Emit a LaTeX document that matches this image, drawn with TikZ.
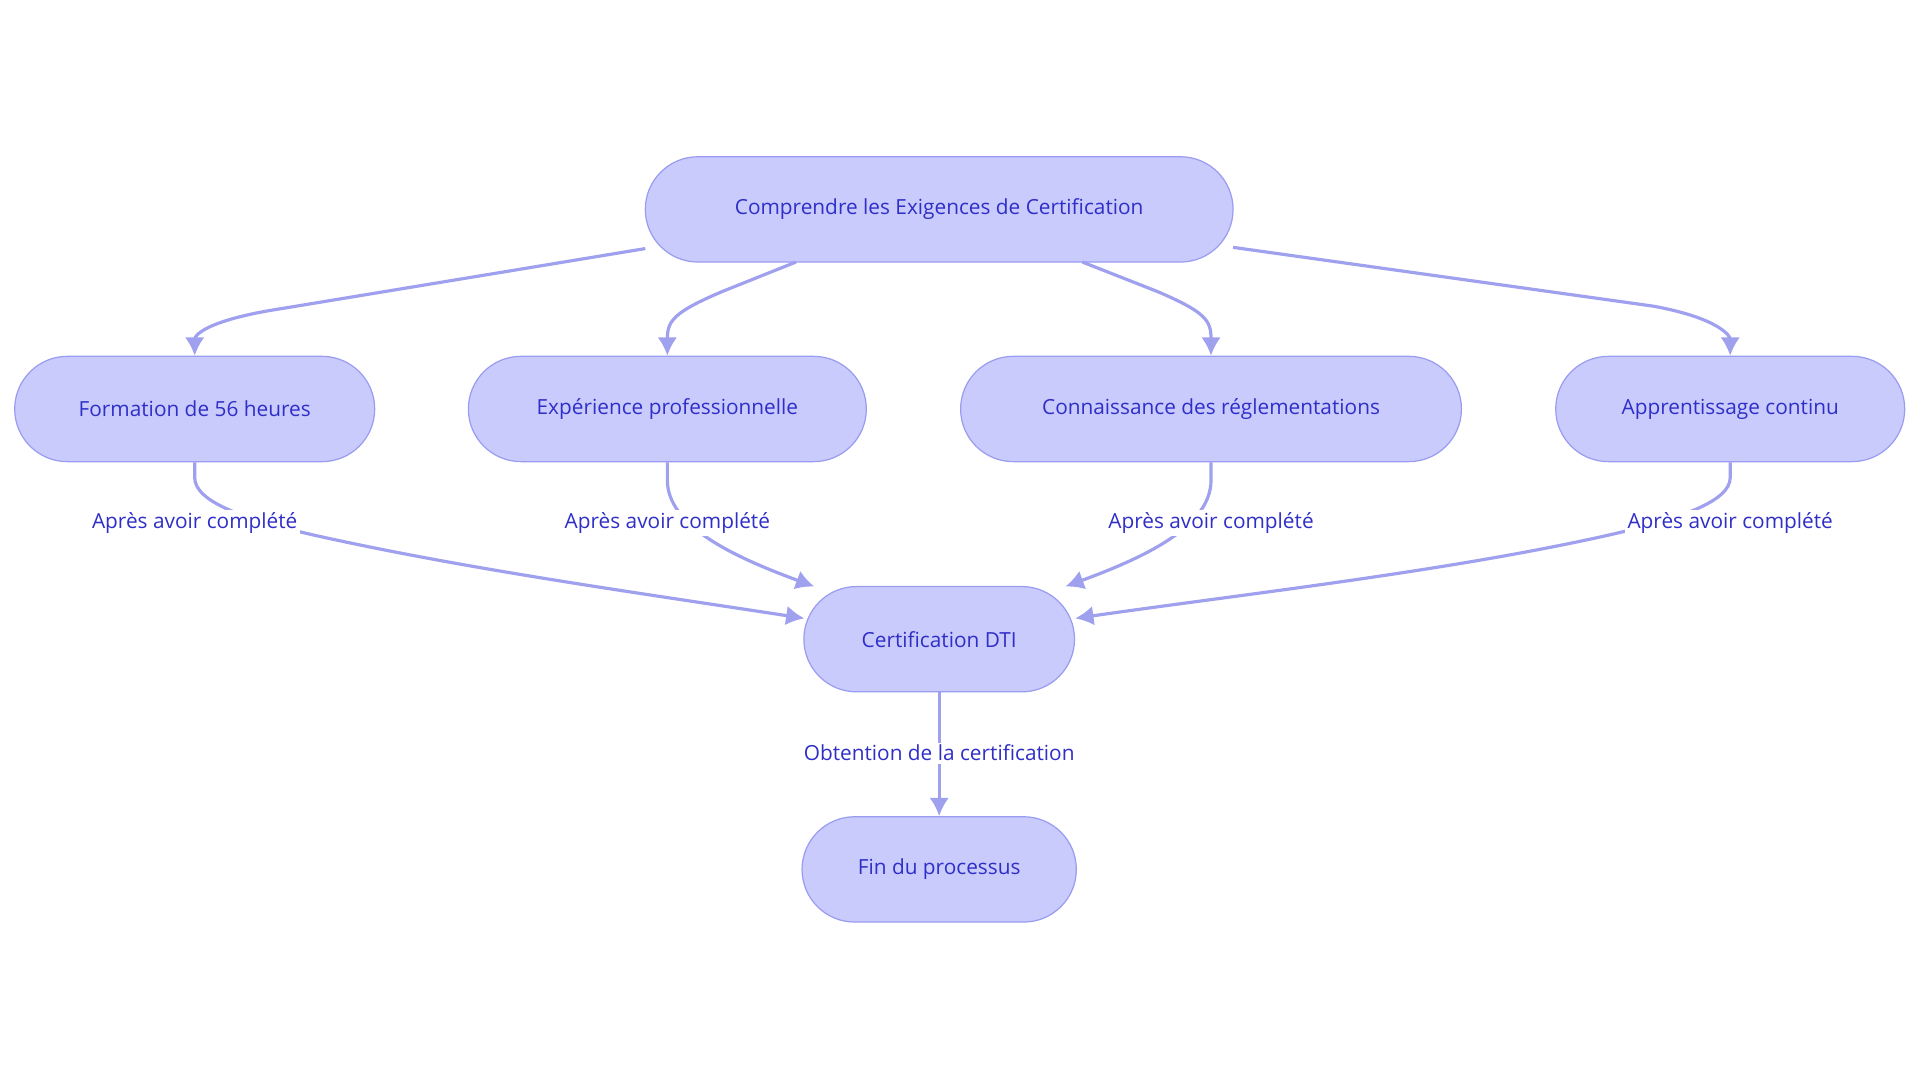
\documentclass[tikz,border=0pt]{standalone}
\usepackage{fontspec}
\setmainfont{Open Sans}
\usetikzlibrary{arrows.meta}
\definecolor{nfill}{HTML}{C9CBFD}
\definecolor{nbord}{HTML}{9A9CF0}
\definecolor{ntext}{HTML}{2F2FC8}
\definecolor{edge}{HTML}{9FA0EE}
\begin{document}
\begin{tikzpicture}[x=1pt,y=-1pt,
  box/.style={draw=nbord,fill=nfill,line width=1pt,rounded corners=43pt,minimum height=86pt,text=ntext,font=\fontsize{17}{20}\selectfont,inner sep=0pt},
  con/.style={draw=edge,line width=2.6pt,-{Latex[length=15pt,width=16pt]}},
  lab/.style={fill=white,text=ntext,font=\fontsize{17}{20}\selectfont,inner sep=2pt}]
\useasboundingbox (0,0) rectangle (1568,884);
\node[box,minimum width=480pt] (top) at (767,171) {Comprendre les Exigences de Certification};
\node[box,minimum width=294pt] (f) at (159,334) {Formation de 56 heures};
\node[box,minimum width=325pt] (e) at (545,334) {Expérience professionnelle};
\node[box,minimum width=409pt] (c) at (989,334) {Connaissance des réglementations};
\node[box,minimum width=285pt] (a) at (1413,334) {Apprentissage continu};
\node[box,minimum width=221pt] (d) at (767,522) {Certification DTI};
\node[box,minimum width=224pt] (fin) at (767,710) {Fin du processus};
\coordinate (t1) at (527,203);
\coordinate (t2) at (650,214);
\coordinate (t3) at (884,214);
\coordinate (t4) at (1007,202);
\draw[con] (t1) -- (230,252) .. controls (165,262) and (159,275) .. (f.north);
\draw[con] (t2) -- (590,238) .. controls (550,255) and (545,262) .. (e.north);
\draw[con] (t3) -- (945,238) .. controls (985,255) and (989,262) .. (c.north);
\draw[con] (t4) -- (1350,250) .. controls (1405,260) and (1413,275) .. (a.north);
\coordinate (d1) at (657,505);
\coordinate (d2) at (665,479);
\coordinate (d3) at (870,479);
\coordinate (d4) at (878,505);
\draw[con] (f.south) -- (159,390) .. controls (159,410) and (200,425) .. (270,440) .. controls (390,466) and (520,484) .. (d1);
\draw[con] (e.south) -- (545,392) .. controls (545,430) and (600,455) .. (d2);
\draw[con] (c.south) -- (989,392) .. controls (989,430) and (935,455) .. (d3);
\draw[con] (a.south) -- (1413,390) .. controls (1413,410) and (1370,425) .. (1300,440) .. controls (1170,468) and (1010,486) .. (d4);
\draw[con] (d.south) -- (fin.north);
\node[lab] at (159,427) {Après avoir complété};
\node[lab] at (545,427) {Après avoir complété};
\node[lab] at (989,427) {Après avoir complété};
\node[lab] at (1413,427) {Après avoir complété};
\node[lab] at (767,615) {Obtention de la certification};
\end{tikzpicture}
\end{document}
